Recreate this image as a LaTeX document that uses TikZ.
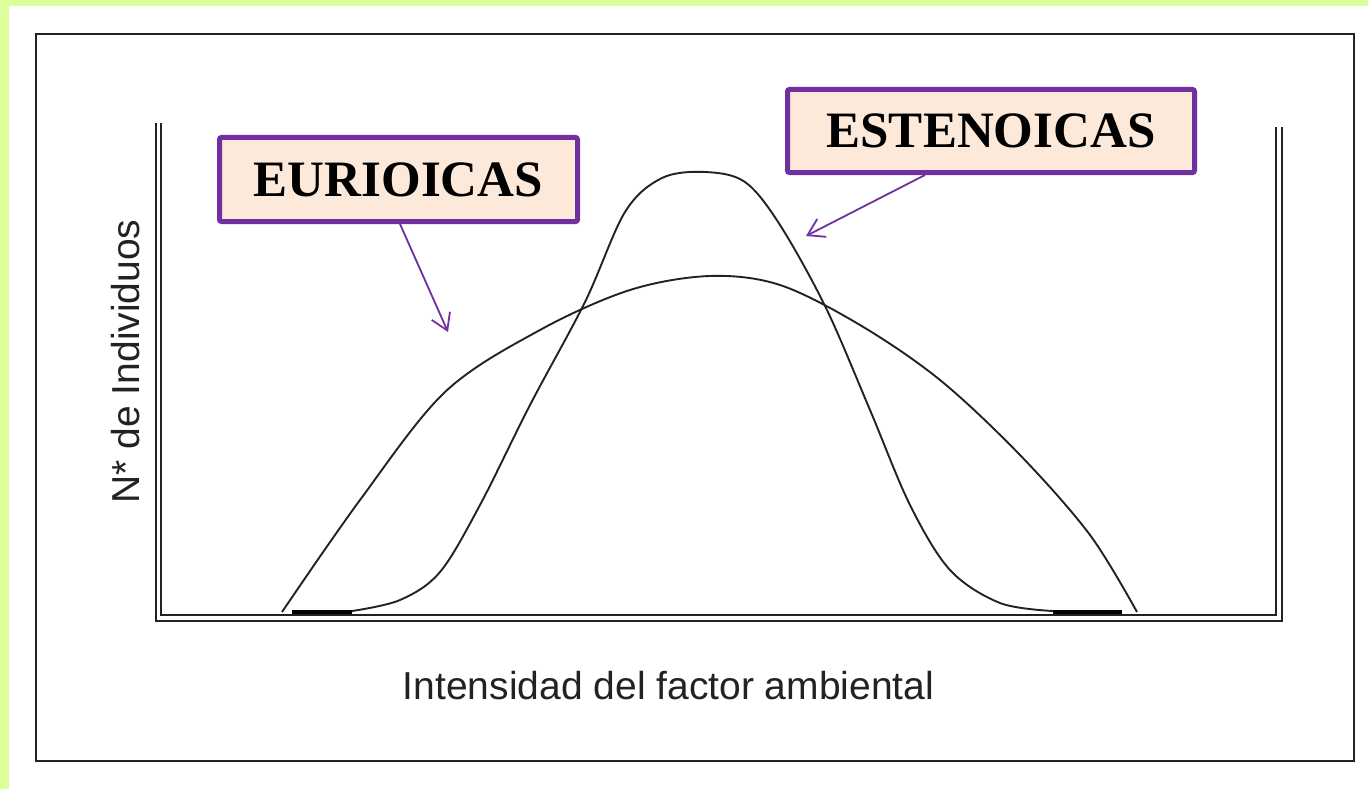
\documentclass[tikz,border=0pt]{standalone}
\usepackage{fontspec}
\setmainfont{Liberation Serif}
\newfontfamily\labelfont{Liberation Sans}
\usetikzlibrary{arrows.meta,calc}
\definecolor{framegreen}{HTML}{DDFF99}
\definecolor{boxpurple}{HTML}{7030A0}
\definecolor{boxfill}{HTML}{FDE9D9}
\definecolor{curvegray}{HTML}{222222}
\tikzset{
  labelbox/.style={draw=boxpurple, fill=boxfill, line width=5pt, rounded corners=2pt,
    inner sep=0pt, font=\fontsize{51}{60}\selectfont\bfseries},
  pointer/.style={draw=boxpurple, line width=1.8pt, -{Straight Barb[length=16pt,width=20pt,line width=1.8pt]}},
  axisline/.style={draw=curvegray, line width=2pt},
  curveline/.style={draw=curvegray, line width=1.9pt},
  axislabel/.style={font=\labelfont\fontsize{39}{46}\selectfont, inner sep=0pt, text=curvegray}
}
\begin{document}
\begin{tikzpicture}[x=1pt,y=-1pt]
\useasboundingbox (0,0) rectangle (1368,789);
% green strips
\fill[framegreen] (0,0) rectangle (1368,6);
\fill[framegreen] (0,0) rectangle (9,789);
% outer frame
\draw[line width=2pt, draw=curvegray] (36,34) rectangle (1354,761);
% axes (double lines)
\draw[axisline] (155.5,123) -- (155.5,621) -- (1281.5,621) -- (1281.5,127);
\draw[axisline] (160.5,123) -- (160.5,615) -- (1275.5,615) -- (1275.5,127);
% wide curve (EURIOICAS)
\draw[curveline] plot[smooth, tension=0.55] coordinates {
 (282,612) (360,500) (445,392) (540,330) (630,290) (710,276)
 (780,285) (860,325) (940,380) (1020,455) (1090,535) (1137,612)};
% narrow curve (ESTENOICAS)
\draw[line width=4pt, draw=black] (292,612) -- (352,612);
\draw[line width=4pt, draw=black] (1053,612) -- (1122,612);
\draw[curveline] plot[smooth, tension=0.55] coordinates {
 (352,611) (400,600) (440,572) (480,505) (530,405) (585,302) (625,212)
 (662,178) (705,172) (745,182) (780,225) (826,308) (870,410) (910,505)
 (950,570) (1000,603) (1053,611)};
% label boxes
\node[labelbox, minimum width=358pt, minimum height=84pt] (eu) at (398.5,179.5) {EURIOICAS};
\node[labelbox, minimum width=407pt, minimum height=83pt] (es) at (991,131) {ESTENOICAS};
% pointer targets
\coordinate (eutip) at (448,332);
\coordinate (estip) at (806,236);
\draw[pointer] ($(eu.south)+(1.5,0)$) -- (eutip);
\draw[pointer] ($(es.south)+(-66,0)$) -- (estip);
% axis labels
\node[axislabel, anchor=base, rotate=90] (ylab) at (139,361.5) {N* de Individuos};
\node[axislabel, anchor=base] (xlab) at (668.5,699) {Intensidad del factor ambiental};
\end{tikzpicture}
\end{document}
